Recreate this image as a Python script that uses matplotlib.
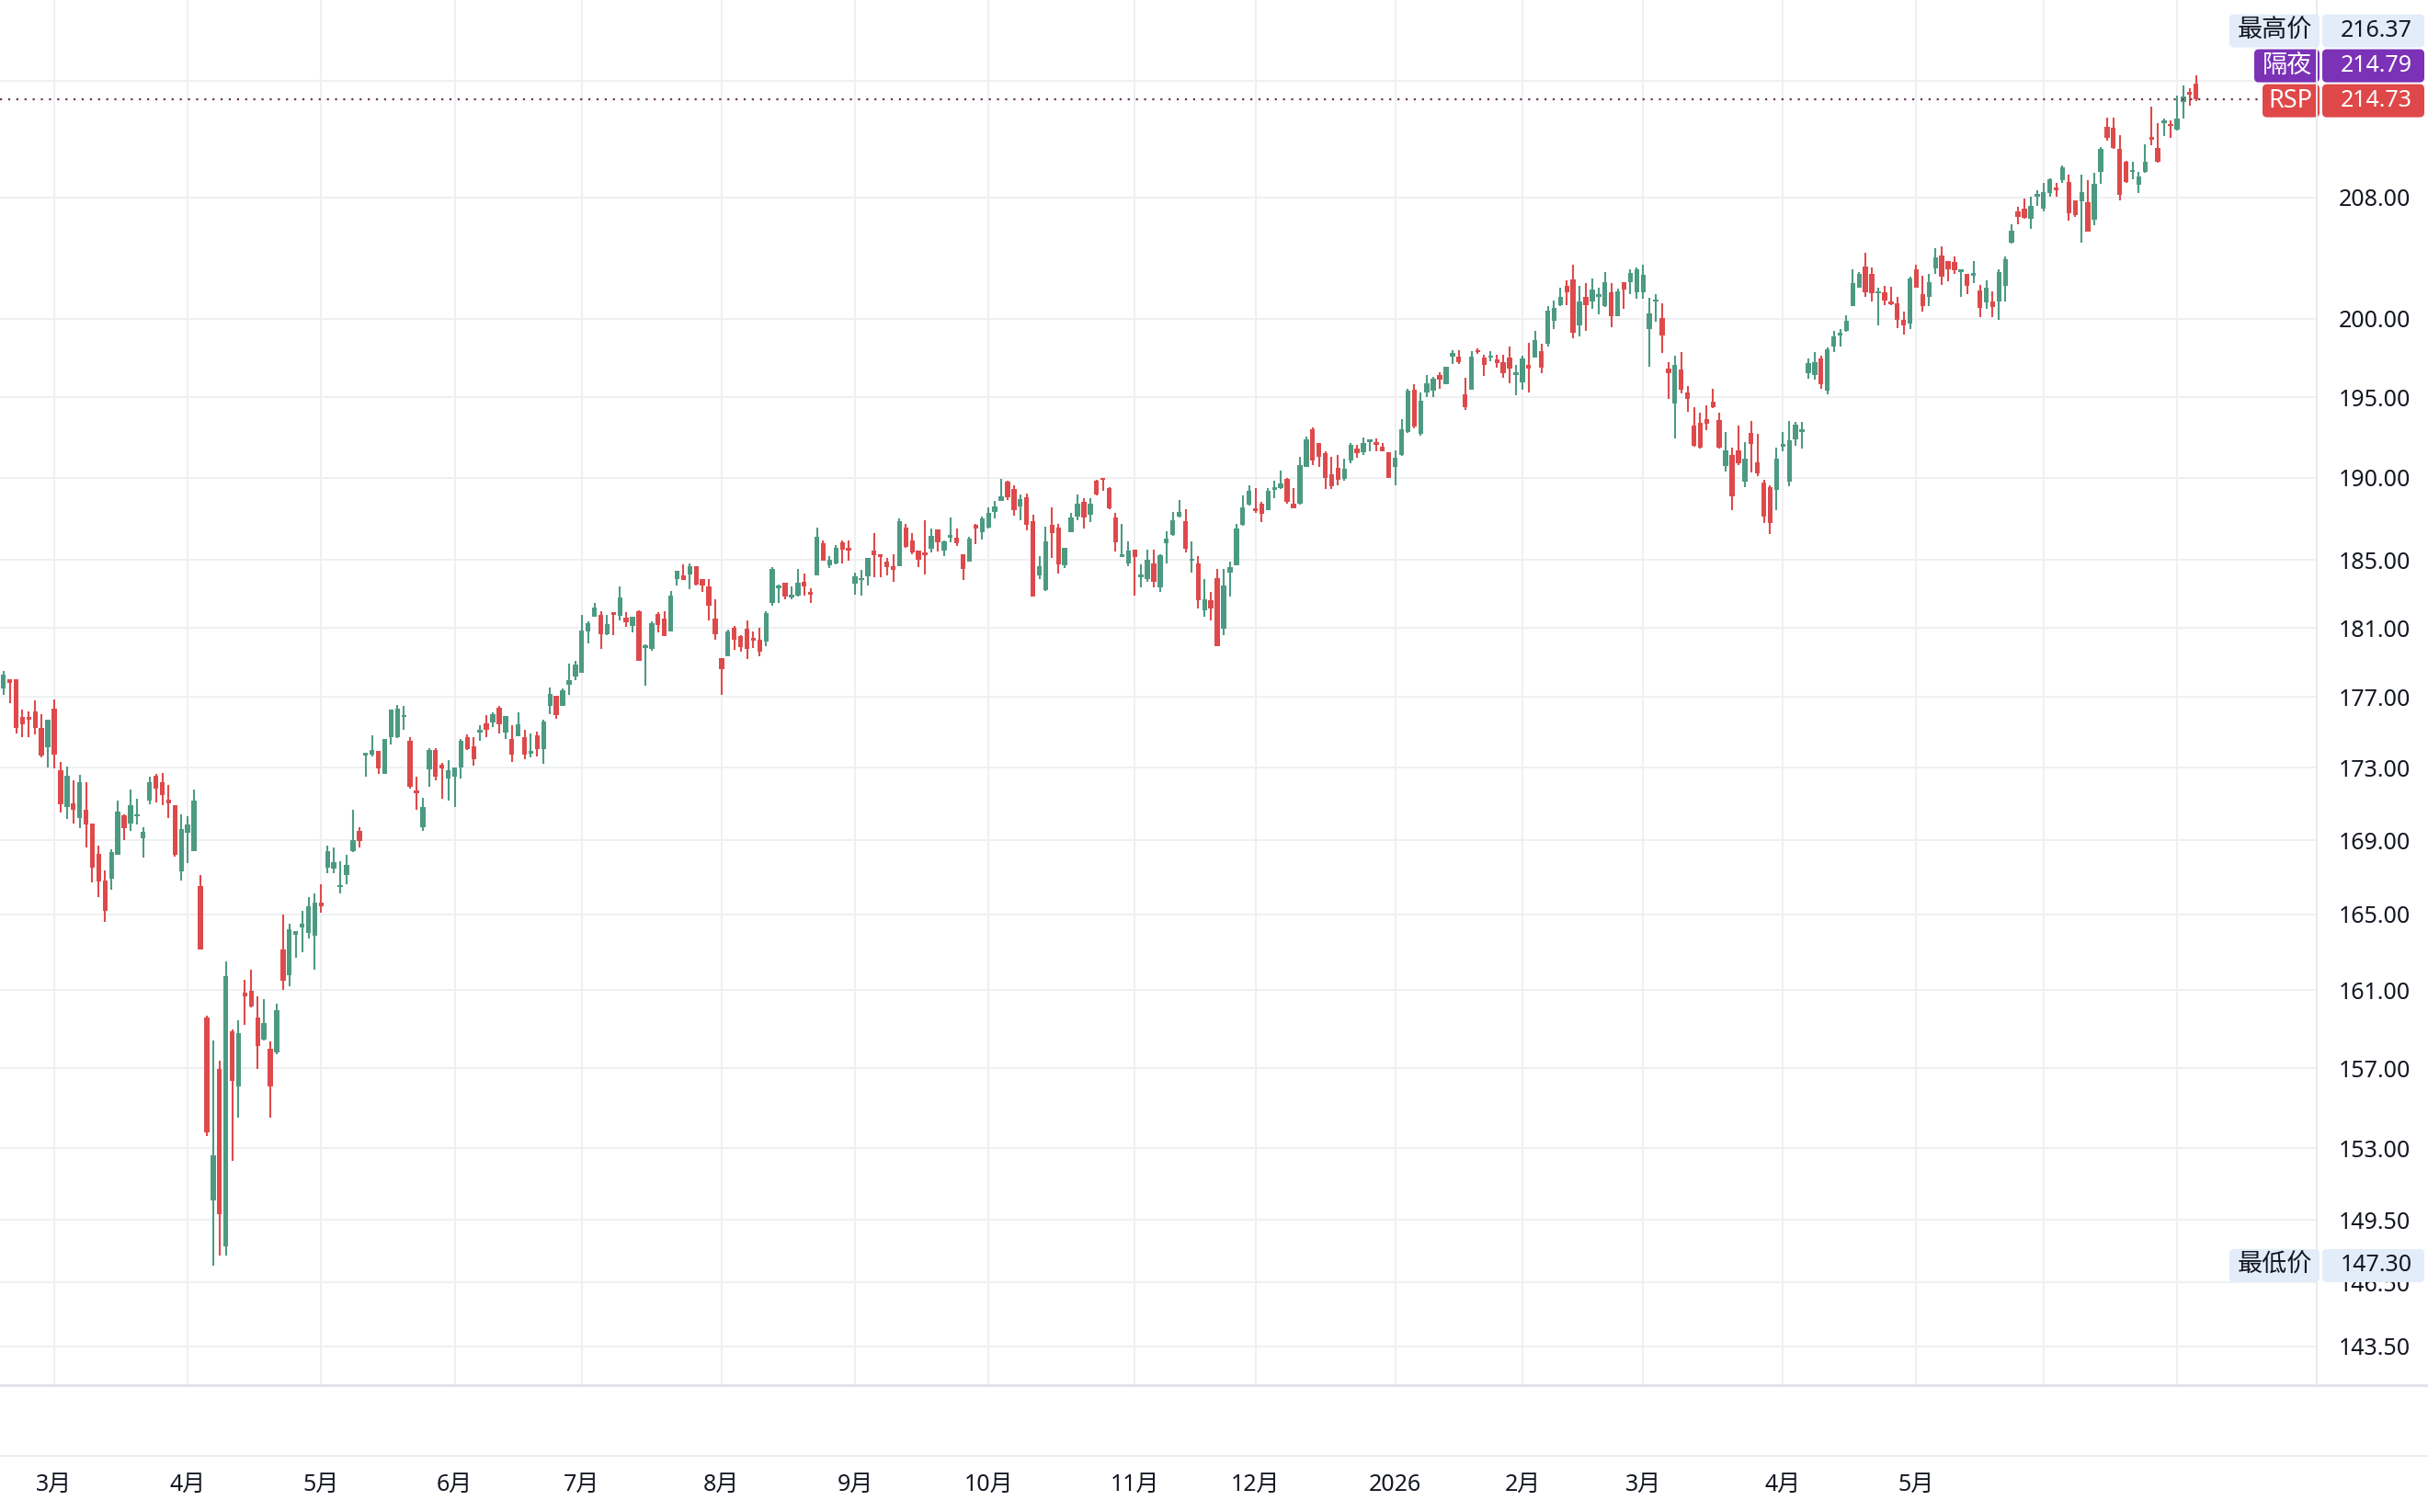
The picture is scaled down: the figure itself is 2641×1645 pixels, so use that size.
import numpy as np
import matplotlib.pyplot as plt
from matplotlib.patches import FancyBboxPatch
from matplotlib.ticker import NullLocator

W, H = 2641, 1645

# daily candles, RSP, late Feb 2025 -> early Jul 2026
opens = [
    177.5, 178.0, 178.0, 175.85, 175.75, 176.2, 175.25, 174.15, 176.35, 172.85,
    170.8, 171.0, 170.2, 170.65, 169.9, 168.25, 166.8, 166.9, 168.2, 170.35,
    169.9, 170.3, 169.1, 171.2, 172.55, 172.2, 171.25, 170.9, 167.3, 169.4,
    168.4, 166.5, 159.6, 150.45, 156.95, 148.2, 158.9, 156.1, 160.9, 160.95,
    159.6, 158.45, 158.0, 157.8, 163.15, 161.8, 163.9, 164.3, 164.0, 163.85,
    165.65, 167.5, 167.45, 166.45, 167.1, 168.4, 169.5, 173.7, 173.75, 173.95,
    172.65, 174.7, 174.7, 175.85, 174.5, 171.65, 169.7, 172.9, 174.0, 173.15,
    172.4, 172.5, 173.0, 174.7, 174.2, 175.0, 175.5, 175.55, 176.4, 175.0,
    174.6, 174.75, 174.7, 173.8, 174.85, 174.05, 176.5, 177.05, 176.5, 177.7,
    178.2, 178.4, 180.8, 181.65, 181.75, 180.65, 181.8, 181.7, 181.6, 181.1,
    181.95, 179.85, 179.75, 181.8, 181.55, 180.8, 183.85, 184.1, 184.15, 184.65,
    183.9, 183.45, 181.55, 179.25, 179.35, 181.0, 180.5, 180.95, 180.3, 180.3,
    180.2, 182.45, 183.35, 183.65, 182.8, 182.9, 183.7, 183.0, 184.1, 186.0,
    184.7, 184.8, 186.05, 185.65, 183.6, 183.8, 184.05, 185.6, 185.35, 184.9,
    184.65, 184.65, 186.95, 186.2, 185.55, 185.35, 185.7, 186.85, 185.55, 186.35,
    186.35, 185.35, 184.9, 187.15, 186.7, 186.95, 187.9, 188.6, 189.75, 189.3,
    188.25, 188.8, 187.35, 184.1, 183.2, 187.1, 186.95, 184.7, 186.7, 187.6,
    188.5, 187.75, 189.8, 189.9, 189.35, 187.55, 185.2, 184.8, 185.65, 184.0,
    183.9, 184.8, 183.4, 186.0, 186.5, 187.65, 187.35, 184.95, 184.8, 182.05,
    182.6, 183.95, 180.95, 184.25, 184.7, 187.1, 188.35, 188.05, 188.4, 188.0,
    189.25, 189.35, 189.9, 188.4, 188.4, 190.65, 193.0, 192.15, 191.5, 190.2,
    190.6, 189.9, 191.05, 191.8, 191.55, 192.2, 192.1, 191.9, 191.55, 190.65,
    191.4, 192.8, 195.45, 192.7, 195.3, 195.4, 196.4, 195.8, 197.6, 197.55,
    195.2, 195.5, 197.95, 197.5, 197.5, 197.4, 197.2, 197.5, 196.4, 195.95,
    197.05, 197.5, 197.9, 198.4, 199.9, 200.9, 202.15, 202.55, 199.55, 201.4,
    201.15, 201.45, 200.8, 201.7, 200.2, 202.4, 202.4, 201.7, 201.7, 199.35,
    201.1, 200.05, 196.8, 194.6, 196.75, 195.3, 193.25, 193.4, 193.65, 194.7,
    193.55, 190.7, 191.4, 191.7, 189.75, 192.75, 190.95, 189.7, 189.4, 189.25,
    191.9, 189.75, 192.35, 192.85, 196.5, 196.4, 197.45, 195.4, 198.25, 198.95,
    199.25, 200.8, 202.05, 203.4, 202.95, 201.65, 201.7, 201.15, 201.0, 199.95,
    199.7, 203.2, 201.6, 201.4, 203.3, 204.15, 203.75, 203.7, 203.05, 202.9,
    202.8, 201.85, 201.05, 201.15, 201.15, 202.15, 205.0, 207.05, 207.25, 206.6,
    208.05, 207.25, 208.3, 208.6, 209.15, 209.05, 207.8, 207.75, 207.7, 206.5,
    209.75, 212.8, 212.75, 211.3, 210.4, 209.7, 208.85, 209.7, 212.1, 211.35,
    213.05, 212.95, 212.6, 214.5, 215.15, 215.8,
]
highs = [
    178.5, 178.0, 178.0, 176.3, 176.2, 176.8, 176.0, 175.7, 176.85, 173.35,
    173.05, 172.3, 172.6, 172.2, 169.9, 168.7, 167.35, 168.5, 171.2, 170.4,
    171.8, 171.3, 169.7, 172.5, 172.65, 172.7, 172.05, 170.9, 170.4, 170.3,
    171.8, 167.1, 159.7, 158.4, 157.4, 162.5, 159.0, 159.45, 161.55, 162.1,
    160.7, 160.55, 158.35, 160.3, 165.0, 164.5, 164.1, 165.2, 165.9, 166.1,
    166.6, 168.7, 168.6, 167.85, 168.2, 170.65, 169.7, 173.85, 174.8, 173.95,
    174.6, 176.3, 176.55, 176.5, 174.7, 172.5, 171.35, 174.1, 174.1, 173.25,
    173.45, 173.0, 174.6, 174.9, 174.7, 175.4, 175.95, 176.15, 176.5, 175.9,
    175.4, 176.15, 175.15, 174.95, 175.05, 175.7, 177.55, 177.05, 177.5, 178.9,
    179.1, 181.75, 181.4, 182.45, 182.0, 181.75, 181.9, 183.45, 181.9, 181.65,
    182.05, 180.05, 181.4, 181.9, 181.95, 183.15, 184.35, 184.75, 184.8, 184.65,
    183.9, 183.9, 182.7, 179.25, 180.9, 181.1, 180.55, 181.45, 180.8, 181.0,
    181.95, 184.6, 183.55, 183.65, 183.45, 184.5, 184.2, 183.35, 186.95, 186.2,
    185.25, 185.9, 186.2, 186.2, 184.25, 184.4, 185.15, 186.65, 185.35, 185.15,
    185.35, 187.5, 187.2, 186.6, 185.6, 187.4, 186.9, 186.85, 186.2, 187.55,
    186.9, 185.35, 186.4, 187.2, 187.65, 188.2, 188.55, 189.95, 189.8, 189.55,
    188.95, 189.0, 187.75, 185.25, 187.0, 188.2, 187.2, 185.75, 187.85, 188.95,
    188.75, 188.75, 189.85, 189.95, 189.4, 187.85, 187.2, 186.15, 185.65, 184.75,
    185.65, 185.65, 185.35, 186.75, 187.9, 188.65, 188.05, 186.15, 185.25, 183.85,
    183.1, 184.5, 184.5, 184.9, 187.2, 188.9, 189.55, 189.35, 188.5, 189.35,
    189.8, 190.45, 190.0, 189.35, 191.3, 192.55, 193.1, 192.15, 191.65, 191.3,
    191.4, 191.15, 192.15, 192.05, 192.5, 192.35, 192.45, 192.15, 191.55, 191.7,
    193.6, 195.55, 195.8, 195.3, 196.4, 196.3, 196.6, 196.95, 198.0, 198.0,
    196.25, 197.9, 198.1, 197.7, 197.9, 197.7, 197.7, 198.25, 197.05, 197.65,
    198.45, 199.25, 198.4, 200.85, 201.2, 202.0, 202.5, 203.55, 202.15, 202.3,
    202.6, 202.0, 203.05, 202.35, 201.95, 202.4, 203.25, 203.35, 203.5, 201.35,
    201.6, 201.0, 197.2, 197.65, 197.85, 195.7, 194.35, 194.05, 194.5, 195.55,
    194.0, 192.85, 191.85, 193.25, 192.2, 193.5, 192.7, 189.85, 189.55, 191.85,
    192.8, 193.5, 193.45, 193.45, 197.45, 197.85, 197.65, 198.15, 199.2, 199.35,
    200.25, 203.2, 203.05, 204.3, 203.35, 202.05, 202.15, 202.1, 201.45, 200.45,
    202.75, 203.5, 202.8, 202.9, 204.6, 204.75, 203.75, 204.05, 203.25, 202.9,
    203.75, 202.2, 202.5, 201.8, 203.2, 204.1, 206.2, 207.4, 207.95, 208.05,
    208.5, 208.95, 209.3, 208.95, 210.15, 209.55, 207.8, 209.55, 209.15, 209.65,
    211.4, 213.45, 213.45, 212.2, 210.5, 210.4, 209.75, 211.6, 214.2, 213.05,
    213.35, 213.25, 214.95, 215.65, 215.45, 216.37,
]
lows = [
    177.1, 176.65, 174.95, 174.7, 174.7, 174.9, 173.6, 173.0, 172.95, 170.5,
    170.15, 169.9, 169.65, 168.6, 166.7, 165.9, 164.6, 166.3, 168.2, 169.0,
    169.5, 169.85, 168.05, 170.95, 171.1, 170.9, 170.2, 168.1, 166.8, 167.75,
    168.4, 163.15, 153.6, 147.3, 147.8, 147.8, 152.35, 154.5, 159.2, 160.1,
    156.95, 158.4, 154.5, 157.7, 161.0, 161.2, 162.7, 163.0, 163.7, 162.1,
    165.1, 167.2, 167.2, 166.1, 166.6, 168.35, 168.6, 172.5, 173.65, 172.65,
    172.65, 174.3, 174.65, 175.15, 171.85, 170.65, 169.5, 171.95, 172.3, 171.3,
    171.2, 170.8, 172.4, 174.0, 173.1, 174.5, 174.7, 175.3, 174.95, 174.6,
    173.35, 174.75, 173.5, 173.6, 173.65, 173.2, 176.0, 175.75, 176.5, 177.1,
    177.95, 178.4, 180.1, 181.65, 179.75, 180.55, 180.55, 181.45, 181.05, 180.75,
    179.1, 177.65, 179.65, 180.75, 180.5, 180.8, 183.5, 183.8, 183.3, 183.5,
    183.1, 181.45, 180.3, 177.1, 179.35, 179.7, 179.6, 179.2, 179.85, 179.35,
    179.95, 182.3, 182.45, 182.7, 182.7, 182.85, 182.9, 182.45, 184.1, 184.95,
    184.55, 184.75, 184.8, 184.95, 182.95, 182.9, 183.5, 184.0, 184.0, 184.1,
    183.7, 184.65, 185.75, 185.35, 184.6, 184.15, 185.45, 185.5, 185.25, 186.1,
    185.85, 183.8, 184.9, 185.95, 186.25, 186.9, 187.5, 188.6, 188.65, 187.7,
    187.4, 186.8, 182.85, 183.9, 183.15, 185.15, 184.2, 184.55, 186.7, 187.4,
    186.9, 187.3, 188.9, 189.2, 188.1, 185.5, 185.2, 184.65, 182.9, 183.4,
    183.7, 183.4, 183.1, 184.8, 186.45, 187.55, 185.45, 184.25, 182.15, 181.65,
    181.45, 179.95, 180.55, 182.85, 184.7, 187.05, 188.3, 187.85, 187.3, 188.0,
    188.75, 189.3, 188.4, 188.15, 188.35, 190.65, 190.8, 190.65, 189.3, 189.3,
    189.55, 189.8, 190.9, 191.2, 191.4, 191.6, 191.6, 191.6, 190.0, 189.55,
    191.35, 192.75, 193.05, 192.6, 195.0, 195.0, 195.55, 195.8, 197.1, 197.1,
    194.2, 195.45, 197.75, 196.35, 197.3, 196.85, 196.25, 195.9, 195.1, 195.45,
    195.3, 197.5, 196.5, 198.25, 199.35, 200.85, 200.9, 198.75, 198.85, 199.25,
    200.65, 200.3, 200.75, 199.45, 200.15, 200.65, 201.6, 201.3, 201.3, 196.95,
    199.8, 197.8, 194.9, 192.4, 195.25, 194.1, 191.9, 191.8, 192.95, 194.3,
    191.8, 190.35, 188.0, 190.75, 189.4, 190.3, 190.1, 187.25, 186.55, 188.0,
    191.6, 189.5, 191.95, 191.8, 196.2, 196.1, 195.55, 195.2, 197.85, 198.2,
    199.15, 200.8, 202.0, 201.45, 201.1, 199.6, 200.9, 200.9, 199.4, 199.0,
    199.35, 202.0, 200.45, 200.8, 202.95, 202.2, 202.45, 202.9, 201.4, 201.6,
    202.3, 200.1, 200.65, 200.1, 199.95, 201.1, 204.9, 206.2, 206.6, 205.9,
    207.45, 207.05, 208.05, 208.05, 208.95, 206.45, 206.7, 205.0, 205.7, 206.15,
    208.9, 211.85, 211.3, 207.8, 209.0, 209.25, 208.3, 209.65, 211.55, 210.35,
    212.15, 212.05, 212.55, 213.4, 214.25, 214.6,
]
closes = [
    178.3, 177.8, 175.25, 175.45, 175.7, 175.25, 173.7, 175.7, 173.75, 170.95,
    172.55, 170.65, 172.2, 169.85, 167.5, 166.75, 165.2, 168.35, 170.55, 169.65,
    170.9, 170.35, 169.45, 172.2, 171.85, 171.5, 171.05, 168.2, 169.6, 169.85,
    171.2, 163.15, 153.8, 152.65, 149.75, 161.75, 156.35, 158.8, 160.7, 160.15,
    158.15, 159.3, 156.1, 159.95, 161.5, 164.2, 164.1, 164.5, 165.45, 165.65,
    165.45, 168.4, 167.8, 166.5, 167.65, 169.0, 168.95, 173.75, 174.0, 172.95,
    174.6, 176.3, 176.35, 175.9, 171.95, 171.6, 170.8, 174.0, 172.5, 172.95,
    172.85, 173.0, 174.5, 174.05, 173.5, 175.15, 175.15, 176.0, 175.45, 175.9,
    173.75, 175.45, 173.75, 173.85, 174.05, 175.6, 177.2, 175.95, 177.4, 177.95,
    178.85, 180.85, 181.25, 182.2, 180.65, 181.2, 181.75, 182.8, 181.35, 181.65,
    179.1, 179.9, 181.25, 181.15, 180.5, 182.9, 184.35, 183.8, 184.65, 183.55,
    183.5, 182.3, 180.65, 178.6, 180.8, 180.3, 179.9, 179.75, 180.25, 179.6,
    181.85, 184.5, 183.45, 182.85, 182.9, 183.65, 183.45, 182.95, 186.4, 184.95,
    185.05, 185.75, 185.65, 185.6, 184.05, 183.85, 185.15, 185.3, 185.2, 184.6,
    184.4, 187.35, 185.8, 185.45, 185.0, 185.3, 186.45, 186.1, 186.15, 186.4,
    186.0, 184.45, 186.3, 186.9, 187.5, 187.85, 188.25, 188.85, 188.8, 188.0,
    188.7, 187.1, 182.85, 184.65, 186.15, 186.6, 184.75, 185.75, 187.55, 188.4,
    187.55, 188.4, 188.95, 189.85, 188.15, 186.05, 185.25, 185.6, 185.2, 184.05,
    185.05, 183.7, 185.3, 186.3, 187.4, 187.9, 185.7, 185.0, 182.6, 182.7,
    182.15, 179.95, 183.5, 184.6, 186.9, 188.2, 189.2, 187.95, 187.8, 189.2,
    189.3, 189.65, 188.5, 188.15, 190.8, 192.35, 191.05, 191.3, 190.0, 189.45,
    189.85, 190.55, 192.0, 191.5, 192.15, 192.25, 192.05, 191.6, 190.0, 191.25,
    193.0, 195.4, 193.15, 194.8, 195.9, 196.15, 196.1, 196.95, 197.8, 197.25,
    194.4, 197.6, 197.85, 197.05, 197.55, 197.15, 196.5, 196.8, 196.45, 197.45,
    196.8, 198.65, 196.85, 200.55, 200.7, 201.4, 201.75, 199.1, 201.15, 200.9,
    201.9, 201.5, 202.4, 200.15, 201.8, 201.9, 203.0, 203.2, 202.85, 200.35,
    201.15, 198.9, 196.5, 197.05, 195.5, 194.9, 191.95, 191.85, 193.35, 194.4,
    191.85, 191.7, 188.85, 190.9, 191.15, 192.1, 190.25, 187.65, 187.25, 191.15,
    191.95, 192.3, 193.3, 192.9, 197.15, 197.25, 195.85, 198.05, 198.85, 199.0,
    199.85, 202.3, 202.9, 201.75, 201.65, 201.7, 201.2, 200.95, 199.95, 199.6,
    202.6, 202.0, 200.8, 202.4, 204.0, 202.75, 203.25, 203.15, 203.1, 202.15,
    202.85, 200.7, 202.0, 200.75, 203.05, 203.9, 205.8, 206.7, 206.65, 207.45,
    208.1, 208.35, 209.25, 208.5, 210.05, 206.95, 206.8, 208.35, 205.7, 208.9,
    211.3, 212.05, 211.35, 208.2, 209.05, 209.75, 209.4, 210.4, 211.9, 210.4,
    213.1, 212.85, 213.4, 214.9, 215.05, 214.73,
]

# month starts (candle index) and their labels
month_pos = [8, 29, 50, 71, 91, 113, 134, 155, 178, 197, 219, 239, 258, 280, 301, 321, 342]
month_lbl = ['3月', '4月', '5月', '6月', '7月', '8月', '9月', '10月', '11月', '12月',
             '2026', '2月', '3月', '4月', '5月', '', '']

price_ticks = [143.5, 146.5, 149.5, 153, 157, 161, 165, 169, 173, 177,
               181, 185, 190, 195, 200, 208, 216]

high_val = 216.37
low_val = 147.30
night_val = 214.79
last_val = 214.73

UP = '#4d9a83'
DOWN = '#de4a4c'
GRID = '#eff0f3'
TXT = '#131722'

plt.rcParams['font.family'] = ['Noto Sans', 'Noto Sans CJK SC']

fig = plt.figure(figsize=(W / 100, H / 100), dpi=100)
ax = fig.add_axes([0, (H - 1507) / H, 2520 / W, 1507 / H])
ax.set_yscale('log')
ax.set_ylim(141.72, 221.7)
ax.set_xlim(-0.535, 364.0)

o = np.array(opens)
hi = np.array(highs)
lo = np.array(lows)
c = np.array(closes)
x = np.arange(len(o))
col = np.where(c >= o, UP, DOWN)

ax.vlines(x, lo, hi, colors=col, linewidth=1.5, zorder=3)
bottom = np.minimum(o, c)
height = np.maximum(np.abs(c - o), bottom * 0.0008)
ax.bar(x, height, bottom=bottom, width=0.78, color=col, linewidth=0, zorder=4)

# last price line
ax.axhline(last_val, color='#6a3458', lw=1.6, ls=(0, (1, 3)), zorder=5)

ax.set_yticks(price_ticks)
# top gridline label sits under the price tags
ax.set_yticklabels(['' if t == 216 else f'{t:.2f}' for t in price_ticks])
ax.yaxis.set_minor_locator(NullLocator())
ax.set_xticks(month_pos)
ax.set_xticklabels([])
ax.tick_params(axis='y', which='both', left=False, labelleft=False, right=False,
               labelright=True, length=0, pad=17, labelsize=18, labelcolor=TXT)
ax.tick_params(axis='x', length=0, labelbottom=False)
ax.grid(True, color=GRID, lw=1.4)
ax.set_axisbelow(True)
for s in ax.spines.values():
    s.set_visible(False)

for p, lb in zip(month_pos, month_lbl):
    ax.text(p, -(1615 - 1507) / 1507, lb, transform=ax.get_xaxis_transform(),
            ha='center', va='center', fontsize=18, color=TXT,
            fontweight='bold' if lb == '2026' else 'normal')

# overlay in figure pixels for separators and price tags
ov = fig.add_axes([0, 0, 1, 1], zorder=10)
ov.set_xlim(0, W)
ov.set_ylim(H, 0)
ov.axis('off')
ov.plot([0, W], [1507, 1507], color='#e2e4ea', lw=2.2)
ov.plot([0, W], [1584, 1584], color='#eceef2', lw=1.6)
ov.plot([2520, 2520], [0, 1507], color='#e8eaef', lw=1.4)


def ypix(v):
    return H - ax.transData.transform((0, v))[1]


def tag(x0, yc, label, val, fc, tc):
    ov.add_patch(FancyBboxPatch((x0, yc - 18), 2523 - x0, 36,
                                boxstyle='round,pad=0,rounding_size=5', fc=fc, ec='none'))
    ov.add_patch(FancyBboxPatch((2526, yc - 18), 111, 36,
                                boxstyle='round,pad=0,rounding_size=5', fc=fc, ec='none'))
    ov.text(2515, yc, label, ha='right', va='center', fontsize=19.5, color=tc)
    ov.text(2546, yc, f'{val:.2f}', ha='left', va='center', fontsize=18, color=tc)


y_last = ypix(last_val) + 2
tag(2461, y_last, 'RSP', last_val, '#df4848', 'white')
tag(2452, y_last - 38, '隔夜', night_val, '#7b32b6', 'white')
tag(2425, y_last - 76, '最高价', high_val, '#e3ecf9', TXT)
tag(2425, ypix(low_val), '最低价', low_val, '#e3ecf9', TXT)

fig.savefig('out.png', dpi=100)
